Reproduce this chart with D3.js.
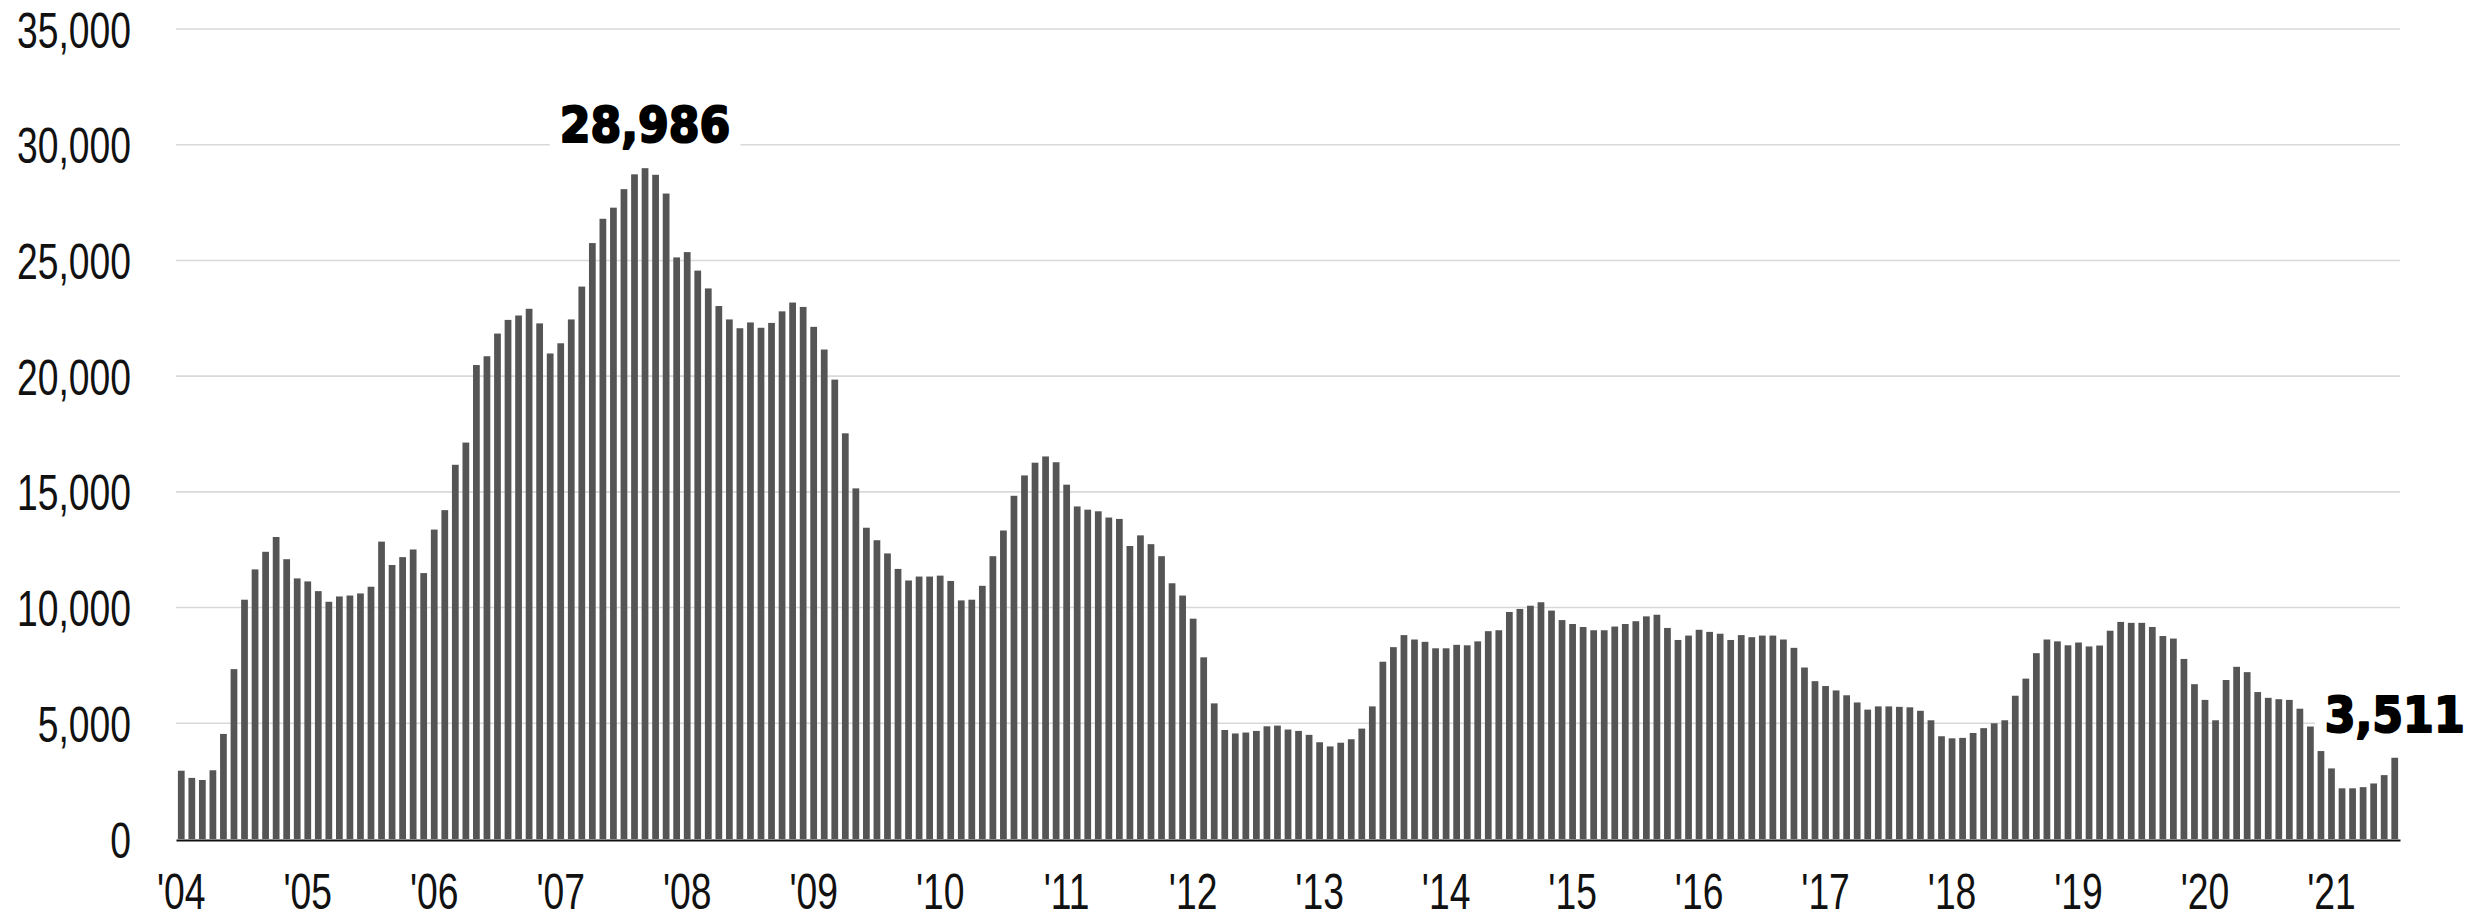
<!DOCTYPE html>
<html>
<head>
<meta charset="utf-8">
<script src="https://cdn.jsdelivr.net/npm/d3@7"></script>
<style>
  html, body { margin: 0; padding: 0; background: #ffffff; }
  svg { display: block; }
</style>
</head>
<body>
<svg id="chart" width="2486" height="920"></svg>
<script>
// Monthly counts, one array per year (January .. December)
const years = [2004, 2005, 2006, 2007, 2008, 2009, 2010, 2011, 2012,
               2013, 2014, 2015, 2016, 2017, 2018, 2019, 2020, 2021];
const v2004 = [2950, 2640, 2550, 2970, 4540, 7340, 10340, 11650, 12410, 13050, 12090, 11260];
const v2005 = [11130, 10710, 10250, 10480, 10520, 10610, 10900, 12850, 11840, 12180, 12510, 11490];
const v2006 = [13370, 14210, 16170, 17130, 20480, 20860, 21840, 22430, 22620, 22910, 22280, 20980];
const v2007 = [21420, 22450, 23870, 25750, 26800, 27280, 28080, 28720, 28986, 28700, 27890, 25130];
const v2008 = [25360, 24560, 23790, 23030, 22450, 22070, 22320, 22090, 22300, 22800, 23180, 22990];
const v2009 = [22130, 21150, 19850, 17530, 15150, 13450, 12910, 12340, 11670, 11170, 11340, 11340];
const v2010 = [11380, 11150, 10310, 10340, 10940, 12220, 13330, 14830, 15710, 16260, 16530, 16280];
const v2011 = [15310, 14370, 14230, 14160, 13890, 13830, 12660, 13120, 12740, 12220, 11050, 10520];
const v2012 = [9520, 7850, 5860, 4710, 4560, 4600, 4670, 4870, 4900, 4730, 4670, 4500];
const v2013 = [4180, 4000, 4160, 4310, 4770, 5730, 7660, 8290, 8810, 8620, 8520, 8240];
const v2014 = [8240, 8390, 8370, 8540, 8980, 9020, 9810, 9940, 10080, 10230, 9870, 9460];
const v2015 = [9290, 9160, 9020, 9020, 9180, 9290, 9410, 9620, 9690, 9120, 8600, 8790];
const v2016 = [9040, 8950, 8870, 8600, 8810, 8720, 8790, 8790, 8620, 8260, 7410, 6820];
const v2017 = [6610, 6420, 6210, 5900, 5590, 5730, 5730, 5710, 5690, 5540, 5130, 4440];
const v2018 = [4350, 4370, 4580, 4790, 5000, 5130, 6190, 6930, 8030, 8620, 8540, 8370];
const v2019 = [8490, 8320, 8360, 9000, 9380, 9340, 9340, 9160, 8770, 8660, 7780, 6690];
const v2020 = [6010, 5130, 6870, 7440, 7210, 6350, 6100, 6040, 6010, 5630, 4860, 3800];
const v2021 = [3050, 2190, 2190, 2240, 2400, 2760, 3511];

const yearValues = [v2004, v2005, v2006, v2007, v2008, v2009, v2010, v2011, v2012,
                    v2013, v2014, v2015, v2016, v2017, v2018, v2019, v2020, v2021];
const tickLabels = ["'04", "'05", "'06", "'07", "'08", "'09", "'10", "'11", "'12",
                    "'13", "'14", "'15", "'16", "'17", "'18", "'19", "'20", "'21"];
const yTicks = [0, 5000, 10000, 15000, 20000, 25000, 30000, 35000];

// Flatten to one record per month
const data = years.flatMap((yr, i) =>
  yearValues[i].map((v, m) => ({ key: yr + "-" + (m + 1), year: yr, month: m + 1, value: v })));
const janKeys = years.map(yr => yr + "-1");

const svg = d3.select("#chart");
const plotLeft = 176, plotRight = 2400, plotTop = 29, plotBottom = 839;

const x = d3.scaleBand()
  .domain(data.map(d => d.key))
  .range([plotLeft, plotRight])
  .paddingInner(0.36)
  .paddingOuter(0.18);

const y = d3.scaleLinear()
  .domain([0, 35000])
  .range([plotBottom, plotTop]);

// Horizontal gridlines
svg.append("g")
  .selectAll("line")
  .data(yTicks.filter(t => t > 0))
  .join("line")
  .attr("x1", plotLeft).attr("x2", plotRight)
  .attr("y1", d => y(d)).attr("y2", d => y(d))
  .attr("stroke", "#d9d9d9")
  .attr("stroke-width", 1.6);

// Squeeze text horizontally to the condensed look of the labels
function condense(sel, factor) {
  sel.each(function () {
    const w = this.getComputedTextLength();
    d3.select(this).attr("textLength", w * factor).attr("lengthAdjust", "spacingAndGlyphs");
  });
}

// Y axis labels
const yAxis = svg.append("g")
  .attr("transform", `translate(${plotLeft},0)`)
  .call(d3.axisLeft(y).tickValues(yTicks).tickFormat(d3.format(",")).tickSize(0).tickPadding(45));
yAxis.select(".domain").remove();
yAxis.selectAll("text")
  .attr("font-family", "'Liberation Sans', Arial, sans-serif")
  .attr("font-size", 50)
  .attr("fill", "#111")
  .attr("dy", "0.36em")
  .call(condense, 0.745);

// Bars
svg.append("g")
  .selectAll("rect")
  .data(data)
  .join("rect")
  .attr("x", d => x(d.key))
  .attr("width", x.bandwidth())
  .attr("y", d => y(d.value))
  .attr("height", d => y(0) - y(d.value))
  .attr("fill", "#555556");

// X axis with year labels under each January
const xAxis = svg.append("g")
  .attr("transform", `translate(0,${plotBottom})`)
  .call(d3.axisBottom(x)
    .tickValues(janKeys)
    .tickFormat((d, i) => tickLabels[i])
    .tickSize(0)
    .tickSizeOuter(0)
    .tickPadding(34));
xAxis.select(".domain")
  .attr("stroke", "#111")
  .attr("stroke-width", 2.2)
  .attr("transform", "translate(0,1)");
xAxis.selectAll("text")
  .attr("font-family", "'Liberation Sans', Arial, sans-serif")
  .attr("font-size", 50)
  .attr("fill", "#111")
  .call(condense, 0.745);

// Value call-outs: the peak month and the latest month
const fmt = d3.format(",");
const peak = data.reduce((a, b) => (b.value > a.value ? b : a));
const latest = data[data.length - 1];
const callouts = [peak, latest];

const calloutG = svg.append("g");
callouts.forEach(d => {
  const g = calloutG.append("g");
  const bg = g.append("rect").attr("fill", "#ffffff");
  const t = g.append("text")
    .attr("x", x(d.key) + x.bandwidth() / 2)
    .attr("y", y(d.value) - 26)
    .attr("text-anchor", "middle")
    .attr("font-family", "'DejaVu Sans', sans-serif")
    .attr("font-weight", "bold")
    .attr("font-size", 50)
    .attr("fill", "#000")
    .attr("stroke", "#000")
    .attr("stroke-width", 2.2)
    .attr("stroke-linejoin", "round")
    .text(fmt(d.value))
    .call(condense, 0.885);
  const bb = t.node().getBBox();
  bg.attr("x", bb.x - 10).attr("y", bb.y)
    .attr("width", bb.width + 20).attr("height", bb.height);
});
</script>
</body>
</html>
